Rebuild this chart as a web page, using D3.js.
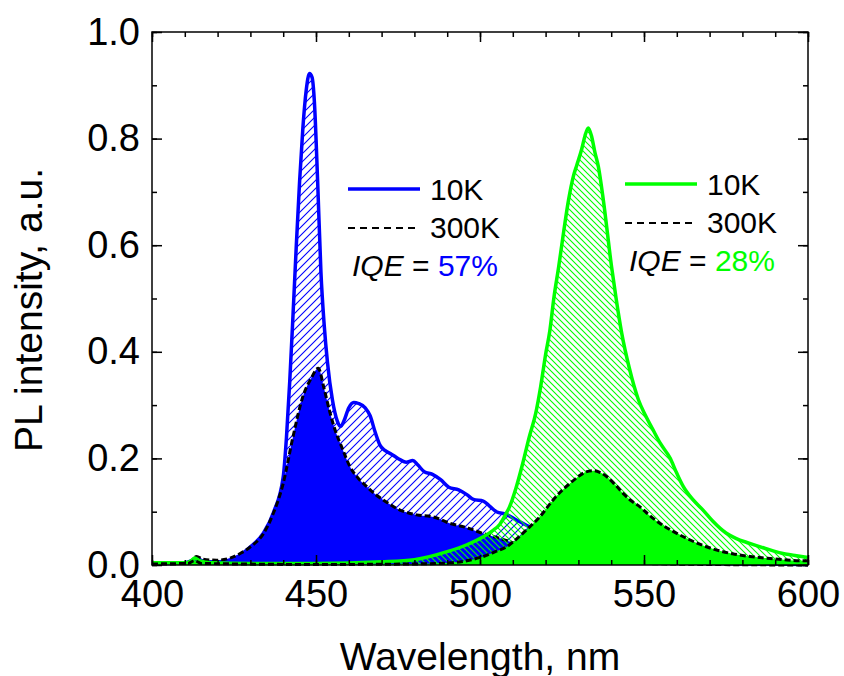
<!DOCTYPE html>
<html>
<head>
<meta charset="utf-8">
<script src="https://cdn.jsdelivr.net/npm/d3@7"></script>
<style>
  body { margin: 0; background: #fff; }
  svg { display: block; font-family: "Liberation Sans", Arial, sans-serif; }
</style>
</head>
<body>
<div id="chart"></div>
<script>
// PL spectra, [wavelength nm, intensity a.u.]
const blue10K = [[400,0.003],[405,0.003],[410,0.004],[412,0.008],[413.5,0.013],[415,0.008],[418,0.005],[422,0.006],[426,0.015],
  [430,0.034],[434,0.06],[437,0.098],[440,0.165],[441,0.24],[442,0.345],[443,0.47],[444,0.6],[445,0.72],[446,0.82],[447,0.89],
  [448,0.922],[448.8,0.915],[449.5,0.87],[450.5,0.72],[451.5,0.55],[452.5,0.45],[453.5,0.38],[455,0.31],[456.5,0.27],[457.5,0.26],
  [458.5,0.27],[460,0.295],[461.5,0.305],[463,0.303],[465,0.295],[466.5,0.28],[468,0.25],[469.5,0.225],[471,0.215],[473,0.208],
  [475,0.2],[477.5,0.193],[479.5,0.196],[481,0.188],[483,0.175],[485.5,0.17],[488,0.16],[490.5,0.146],[493.5,0.141],[496,0.132],
  [498,0.123],[501,0.12],[503,0.11],[505,0.1],[508,0.095],[511,0.085],[515,0.072],[520,0.057],[525,0.042],[530,0.03],[540,0.016],
  [550,0.008],[560,0.004],[580,0.002],[600,0.001]];
const blue300K = [[400,0.002],[410,0.003],[412,0.008],[413.6,0.016],[415.5,0.011],[419.7,0.009],[423.8,0.013],[427,0.022],[430,0.034],
  [434,0.059],[437,0.097],[440,0.153],[443,0.241],[446,0.316],[448.5,0.35],[450.7,0.369],[452.5,0.33],[454.3,0.285],[456,0.25],
  [457.8,0.222],[460.4,0.184],[463,0.162],[465.5,0.147],[468,0.133],[470.5,0.122],[473,0.112],[475.6,0.103],[478,0.098],[480.7,0.094],
  [485.8,0.09],[490.9,0.078],[496,0.07],[501,0.059],[506,0.05],[511,0.04],[516,0.032],[520,0.026],[525,0.018],[530,0.012],[540,0.006],
  [550,0.003],[570,0.001],[600,0]];
const green10K = [[400,0.004],[410,0.004],[412,0.008],[413,0.013],[414.5,0.008],[418,0.004],[430,0.003],[450,0.003],[470,0.006],
  [480,0.01],[490,0.025],[496,0.038],[501,0.053],[504,0.065],[506,0.076],[508,0.097],[509,0.109],[511,0.145],[513,0.19],[515,0.24],
  [517,0.285],[518.5,0.335],[520,0.395],[521.3,0.44],[522.5,0.5],[524,0.56],[525.5,0.625],[527,0.685],[528.5,0.73],[529.5,0.75],
  [531,0.78],[532,0.805],[533,0.82],[534,0.805],[535,0.775],[536.1,0.747],[537.6,0.685],[540.1,0.56],[541.5,0.5],[543.2,0.435],
  [545.5,0.37],[548.3,0.31],[550.5,0.28],[552.8,0.253],[555,0.228],[558,0.2],[560,0.172],[562,0.147],[565,0.122],[568,0.103],
  [571,0.082],[575,0.06],[578,0.05],[582,0.041],[587,0.031],[592,0.022],[596,0.018],[600,0.014]];
const green300K = [[400,0.002],[411,0.003],[413,0.008],[415,0.003],[450,0.001],[480,0.002],[490.9,0.004],[496,0.008],[501,0.016],
  [505,0.026],[508.1,0.034],[511,0.048],[514.2,0.066],[518.3,0.091],[522.3,0.122],[525,0.14],[527.4,0.153],[530,0.166],[532,0.174],
  [534.5,0.177],[536.5,0.174],[538.6,0.166],[541,0.152],[543.7,0.134],[546,0.121],[548.8,0.109],[551.5,0.094],[554.9,0.078],
  [558,0.066],[562,0.053],[567,0.039],[572.2,0.028],[577,0.021],[582.3,0.016],[587,0.013],[592.5,0.01],[598.6,0.008],[600,0.008]];

const xMajor = [400, 450, 500, 550, 600];
const xMinor = d3.range(400, 601, 10);
const yMajor = [0, 0.2, 0.4, 0.6, 0.8, 1.0];
const yMinor = d3.range(0, 1.001, 0.1);

const BLUE = '#0000ff', GREEN = '#00ff00';
const W = 844, H = 676;
const svg = d3.select('#chart').append('svg').attr('width', W).attr('height', H);

const x = d3.scaleLinear().domain([400, 600]).range([152, 808]);
const y = d3.scaleLinear().domain([0, 1]).range([565, 32]);

// hatch patterns
const defs = svg.append('defs');
defs.append('pattern').attr('id', 'hatchBlue').attr('patternUnits', 'userSpaceOnUse')
  .attr('width', 8).attr('height', 8)
  .append('path').attr('d', 'M-2,2 l4,-4 M0,8 l8,-8 M6,10 l4,-4')
  .attr('stroke', BLUE).attr('stroke-width', 1.1);
defs.append('pattern').attr('id', 'hatchGreen').attr('patternUnits', 'userSpaceOnUse')
  .attr('width', 6).attr('height', 6)
  .append('path').attr('d', 'M-2,4 l4,4 M0,0 l6,6 M4,-2 l4,4')
  .attr('stroke', GREEN).attr('stroke-width', 1.1);

const area = d3.area().x(d => x(d[0])).y0(y(0)).y1(d => y(d[1])).curve(d3.curveMonotoneX);
const line = d3.line().x(d => x(d[0])).y(d => y(d[1])).curve(d3.curveMonotoneX);

const g = svg.append('g');
function spectrum(hot, cold, color, hatch) {
  g.append('path').datum(hot).attr('d', area).attr('fill', `url(#${hatch})`);
  g.append('path').datum(cold).attr('d', area).attr('fill', color);
  g.append('path').datum(hot).attr('d', line).attr('fill', 'none')
    .attr('stroke', color).attr('stroke-width', 3.5).attr('stroke-linejoin', 'round');
  g.append('path').datum(cold).attr('d', line).attr('fill', 'none')
    .attr('stroke', '#000').attr('stroke-width', 3).attr('stroke-dasharray', '6,3');
}
spectrum(blue10K, blue300K, BLUE, 'hatchBlue');
spectrum(green10K, green300K, GREEN, 'hatchGreen');

// axes, ticks inward on all four sides
function addAxis(axis, tr, vals, size, labels, pad) {
  const a = svg.append('g').attr('transform', tr)
    .call(axis.tickValues(vals).tickSize(-size).tickPadding(pad || 3)
      .tickFormat(labels ? d3.format('.1f') : ''));
  a.select('.domain').remove();
  a.selectAll('line').attr('stroke', '#000').attr('stroke-width', 1.5);
  a.selectAll('text').attr('font-size', 38).attr('fill', '#000')
    .attr('font-family', '"Liberation Sans", Arial, sans-serif');
  return a;
}
const bx = d3.axisBottom(x), tx = d3.axisTop(x), ly = d3.axisLeft(y), ry = d3.axisRight(y);
addAxis(d3.axisBottom(x), 'translate(0,565)', xMinor, 5, false);
addAxis(d3.axisTop(x), 'translate(0,32)', xMinor, 5, false);
addAxis(d3.axisLeft(y), 'translate(152,0)', yMinor, 5, false);
addAxis(d3.axisRight(y), 'translate(808,0)', yMinor, 5, false);
const xb = addAxis(bx, 'translate(0,565)', xMajor, 10, true, 15);
xb.selectAll('text').text(d => d);
addAxis(tx, 'translate(0,32)', xMajor, 10, false);
addAxis(ly, 'translate(152,0)', yMajor, 10, true, 12);
addAxis(ry, 'translate(808,0)', yMajor, 10, false);

svg.append('rect').attr('x', 152).attr('y', 32).attr('width', 656).attr('height', 533)
  .attr('fill', 'none').attr('stroke', '#000').attr('stroke-width', 1.5);

// axis titles
svg.append('text').attr('x', 480).attr('y', 670).attr('text-anchor', 'middle')
  .attr('font-size', 39).text('Wavelength, nm');
svg.append('text').attr('transform', 'translate(42,310) rotate(-90)').attr('text-anchor', 'middle')
  .attr('font-size', 39).text('PL intensity, a.u.');

// legends
function legend(lx, ly0, color, iqe, iqeX) {
  const L = svg.append('g');
  L.append('line').attr('x1', lx).attr('x2', lx + 72).attr('y1', ly0).attr('y2', ly0)
    .attr('stroke', color).attr('stroke-width', 3.5);
  L.append('line').attr('x1', lx).attr('x2', lx + 72).attr('y1', ly0 + 39).attr('y2', ly0 + 39)
    .attr('stroke', '#000').attr('stroke-width', 1.8).attr('stroke-dasharray', '7,5');
  L.append('text').attr('x', lx + 82).attr('y', ly0 + 10.5).attr('font-size', 30).text('10K');
  L.append('text').attr('x', lx + 82).attr('y', ly0 + 49).attr('font-size', 30).text('300K');
  const t = L.append('text').attr('x', iqeX).attr('y', ly0 + 87).attr('font-size', 30);
  t.append('tspan').attr('font-style', 'italic').text('IQE');
  t.append('tspan').text(' = ');
  t.append('tspan').attr('fill', color).text(iqe);
}
legend(348, 189, BLUE, '57%', 352);
legend(625, 184, GREEN, '28%', 629);
</script>
</body>
</html>
